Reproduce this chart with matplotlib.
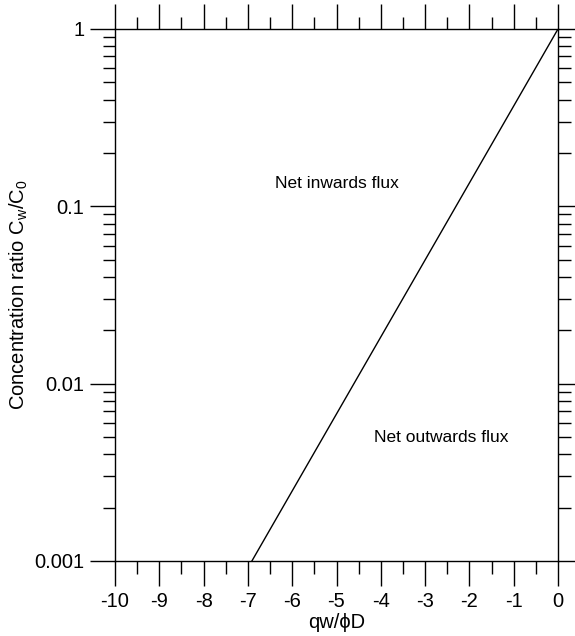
import numpy as np
import matplotlib.pyplot as plt
from matplotlib.ticker import FixedLocator, MultipleLocator, LogLocator, NullFormatter

plt.rcParams['font.family'] = ['Liberation Sans', 'DejaVu Sans']
plt.rcParams['mathtext.fontset'] = 'custom'
plt.rcParams['mathtext.rm'] = 'Liberation Sans'
plt.rcParams['mathtext.it'] = 'Liberation Sans'

# line end points
qw_phiD = [-6.91, 0.0]
conc_ratio = [0.001, 1.0]

x_ticks = [-10, -9, -8, -7, -6, -5, -4, -3, -2, -1, 0]
y_ticks = [0.001, 0.01, 0.1, 1]
y_labels = ['0.001', '0.01', '0.1', '1']

fig = plt.figure(figsize=(5.75, 6.36), dpi=100)
ax = fig.add_axes([115 / 575, 1 - 561 / 636, 443 / 575, 532 / 636])

ax.plot(qw_phiD, conc_ratio, color='black', lw=1)
ax.set_yscale('log')
ax.set_xlim(-10, 0)
ax.set_ylim(0.001, 1)

ax.xaxis.set_major_locator(FixedLocator(x_ticks))
ax.xaxis.set_minor_locator(MultipleLocator(0.5))
ax.set_xticklabels([str(t) for t in x_ticks])
ax.yaxis.set_major_locator(FixedLocator(y_ticks))
ax.yaxis.set_minor_locator(LogLocator(base=10, subs=np.arange(2, 10)))
ax.yaxis.set_minor_formatter(NullFormatter())
ax.set_yticklabels(y_labels)

ax.tick_params(which='both', direction='out', top=True, right=True, labelsize=14.5, width=1, colors='black')
ax.tick_params(which='major', length=18, pad=4)
ax.tick_params(which='minor', length=9)
for s in ax.spines.values():
    s.set_linewidth(1)

ax.set_xlabel('qw/\u03d5D', fontsize=14.5)
ax.xaxis.set_label_coords(0.5, -0.097)
ax.set_ylabel('Concentration ratio C$_w$/C$_0$', fontsize=14.5, labelpad=3)

ax.text(-5.0, 0.134, 'Net inwards flux', fontsize=12.5, ha='center', va='center')
ax.text(-2.64, 0.005, 'Net outwards flux', fontsize=12.5, ha='center', va='center')

fig.savefig('out.png', dpi=100)
